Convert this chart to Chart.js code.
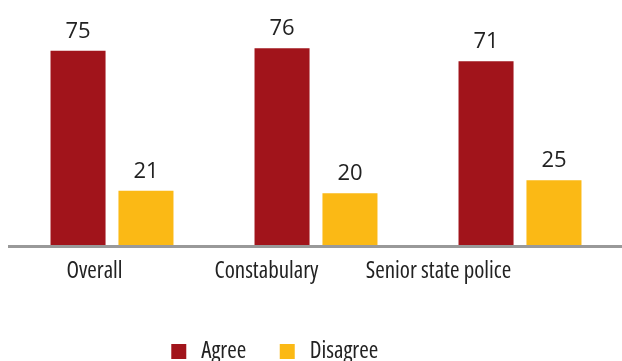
<!DOCTYPE html>
<html>
<head>
<meta charset="utf-8">
<script src="https://cdn.jsdelivr.net/npm/chart.js@4/dist/chart.umd.min.js"></script>
<style>
  html, body { margin: 0; padding: 0; background: #fff; overflow: hidden; }
  #wrap { width: 622px; height: 361px; }
</style>
</head>
<body>
<div id="wrap"><canvas id="pollChart"></canvas></div>
<script>
// Survey groups and answers
const groups = ["Overall", "Constabulary", "Senior state police"];
const agree = [75, 76, 71];
const disagree = [21, 20, 25];

// Open Sans in its condensed width (weight string carries the stretch keyword)
const labelFont = { family: "'Open Sans', sans-serif", size: 23, weight: "400 condensed" };

// value labels on top of each bar
const barValues = {
  id: "barValues",
  afterDatasetsDraw(chart) {
    const c = chart.ctx;
    c.save();
    c.font = "22px 'Open Sans', sans-serif";
    c.fillStyle = "#222";
    c.textAlign = "center";
    c.textBaseline = "alphabetic";
    chart.data.datasets.forEach((ds, i) => {
      chart.getDatasetMeta(i).data.forEach((bar, j) => {
        c.fillText(ds.data[j], bar.x, bar.y - 13);
      });
    });
    c.restore();
  }
};

// grey base line under the bars
const baseLine = {
  id: "baseLine",
  afterDatasetsDraw(chart) {
    const c = chart.ctx;
    const y = chart.scales.y.getPixelForValue(0);
    c.save();
    c.fillStyle = "#999999";
    c.fillRect(8, y, chart.width - 8, 3);
    c.restore();
  }
};

// nudge the legend a bit left and down like the original
const legendNudge = {
  id: "legendNudge",
  afterLayout(chart) {
    const l = chart.legend;
    l.left -= 43; l.right -= 43;
    l.top += 12; l.bottom += 12;
  }
};

const ctx = document.getElementById("pollChart").getContext("2d");

new Chart(ctx, {
  type: "bar",
  data: {
    labels: groups,
    datasets: [
      { label: "Agree", data: agree, backgroundColor: "#a1141b" },
      { label: "Disagree", data: disagree, backgroundColor: "#fbb915" }
    ]
  },
  options: {
    responsive: true,
    maintainAspectRatio: false,
    animation: false,
    layout: { padding: { left: 10, right: 0, top: 12, bottom: 0 } },
    categoryPercentage: 0.666,
    barPercentage: 0.81,
    scales: {
      x: { display: false },
      y: { display: false, min: 0, max: 90 },
      // label axis: the group names sit left of the bar pairs in the original
      lbl: {
        type: "linear",
        position: "bottom",
        offset: false,
        min: -0.491,
        max: 3.067,
        afterBuildTicks: axis => {
          axis.ticks = groups.map((g, i) => ({ value: i }));
        },
        grid: { display: false, drawTicks: false },
        border: { display: false },
        ticks: {
          autoSkip: false,
          maxRotation: 0,
          padding: 12.7,
          color: "#222",
          font: labelFont,
          callback: v => groups[v]
        }
      }
    },
    plugins: {
      tooltip: { enabled: false },
      legend: {
        position: "bottom",
        labels: {
          usePointStyle: true,
          pointStyle: "rect",
          boxWidth: 22,
          boxHeight: 15,
          padding: 30,
          color: "#222",
          font: labelFont
        }
      }
    }
  },
  plugins: [barValues, baseLine, legendNudge]
});
</script>
</body>
</html>
